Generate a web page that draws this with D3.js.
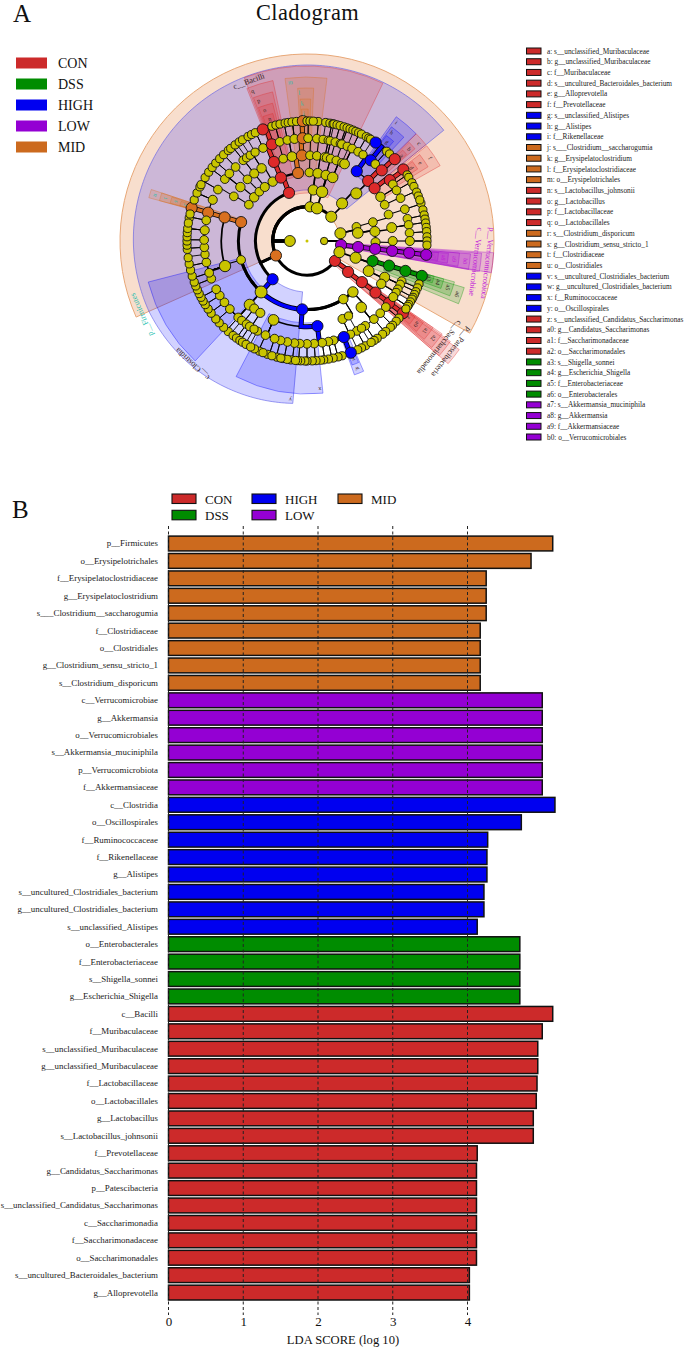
<!DOCTYPE html>
<html><head><meta charset="utf-8">
<script src="https://cdnjs.cloudflare.com/ajax/libs/d3/7.8.5/d3.min.js"></script>
<style>html,body{margin:0;padding:0;background:#fff}svg{display:block}text{font-family:"Liberation Serif",serif}</style>
</head><body><svg id="c" width="685" height="1347"></svg>
<script>
// ---------- shared data ----------
const groups = ["CON","DSS","HIGH","LOW","MID"];
const groupColors = ["#CC2A2A","#008C00","#0000F0","#9400D3","#CC6A1E"];
const nodeColors = ["#DD2A2A","#009400","#0000FF","#A000D0","#D9701F"];
const legendBRows = [["CON","DSS"],["HIGH","LOW"],["MID"]];

// ---------- cladogram key ----------
const keyLetters = ["a","b","c","d","e","f","g","h","i","j","k","l","m","n","o","p","q","r","s","t","u","v","w","x","y","z","a0","a1","a2","a3","a4","a5","a6","a7","a8","a9","b0"];
const keyNames = ["s__unclassified_Muribaculaceae","g__unclassified_Muribaculaceae","f__Muribaculaceae","s__uncultured_Bacteroidales_bacterium","g__Alloprevotella","f__Prevotellaceae","s__unclassified_Alistipes","g__Alistipes","f__Rikenellaceae","s___Clostridium__saccharogumia","g__Erysipelatoclostridium","f__Erysipelatoclostridiaceae","o__Erysipelotrichales","s__Lactobacillus_johnsonii","g__Lactobacillus","f__Lactobacillaceae","o__Lactobacillales","s__Clostridium_disporicum","g__Clostridium_sensu_stricto_1","f__Clostridiaceae","o__Clostridiales","s__uncultured_Clostridiales_bacterium","g__uncultured_Clostridiales_bacterium","f__Ruminococcaceae","o__Oscillospirales","s__unclassified_Candidatus_Saccharimonas","g__Candidatus_Saccharimonas","f__Saccharimonadaceae","o__Saccharimonadales","s__Shigella_sonnei","g__Escherichia_Shigella","f__Enterobacteriaceae","o__Enterobacterales","s__Akkermansia_muciniphila","g__Akkermansia","f__Akkermansiaceae","o__Verrucomicrobiales"];
const keyGroups = ["CON","CON","CON","CON","CON","CON","HIGH","HIGH","HIGH","MID","MID","MID","MID","CON","CON","CON","CON","MID","MID","MID","MID","HIGH","HIGH","HIGH","HIGH","CON","CON","CON","CON","DSS","DSS","DSS","DSS","LOW","LOW","LOW","LOW"];

// ---------- cladogram tree: [angle in degrees, group, children]; a bare number is an unmarked line out to species ----------
const chain = (g, ...a) => a.length === 1 ? [a[0], g] : [a[0], g, [chain(g, ...a.slice(1))]];
const ge = (a, ...sp) => [a, 0, sp];
const patescibacteria = chain("CON",125.5,127,126.8,127,127,127);
const verrucomicrobiota = chain("LOW",96.6,96.7,96.6,96.6,96.6,96.6);
const enterobacterales = chain("DSS",106.9,106.7,106.9,106.9);
const lactobacillales = [337.6,"CON",[chain("CON",337.3,340,338.4),[343.9,0,[ge(344.6,343,345)]],[349.9,0,[ge(349,347,349.5),ge(353,351,352.8,355)]]]];
const erysipelotrichales = chain("MID",352.5,356.6,357.6,358);
const bacilliOrders = [
  [302,0,[[301.4,0,[ge(300,298,301.9)]]]],
  [309.6,0,[[309,0,[ge(307,305,307.8),ge(311,310.5,313.3)]]]],
  [316,0,[[316,0,[ge(316,316,319)]]]],
  [322,0,[[322,0,[ge(321.7,320.5,323.2),ge(324,325.6)]]]],
  [330,0,[[328,0,[ge(326.5,327.5),ge(329.7,330.6),ge(334.7,332.5,334.5)]]]],
  lactobacillales, erysipelotrichales];
const clostridiales = [286,"MID",[
  [286,"MID",[chain("MID",286,286),[281.6,0,[281,283]],[293.6,0,[290,293.6,296.8]]]],
  [253,0,[ge(252,250,253),ge(258,256,259),ge(262.5,262),ge(266.5,266,268),ge(270.6,270,272),ge(276,274,276,278.6)]]]];
const oscillospirales = [184,"HIGH",[
  [173,"HIGH",[chain("HIGH",159,158.6),ge(165,163,165),ge(168,167.4,169.7),ge(171.5,172,173.5),ge(176,175.7,177.5),ge(180,180,181),ge(184,183,184.5),ge(187,187.7,185.5)]],
  [203,0,[ge(191,191.6,189.5),ge(194.9,194.5,192.6),ge(198.4,199.2,197),ge(203.8,203.3,201.5),ge(208.8,206)]]]];
const clostridiaOrders = [
  [138,0,[[140.7,0,[ge(130,130,132),ge(134.6,134.6,136),ge(139.4,139,141),ge(145.5,144.2,146)]]]],
  [148,0,[[155.5,0,[ge(151,150.8,153),155]],[151,0,[ge(148,147.7)]]]],
  oscillospirales,
  [222,0,[[222,0,[ge(222,221,224),ge(228.6,227,229.5),ge(233.4,233,235.5),ge(238,238,240),ge(242,242,244)]],[218,0,[ge(219.4,218),ge(216,216,214)]],[213,0,[ge(213.8,212.5,210.5),ge(211,208)]]]],
  [254,0,[[252.5,0,[ge(248.5,246,248)]]]],
  clostridiales];
const firmicutes = [245,"MID",[[222,"HIGH",clostridiaOrders],[339.5,"CON",bacilliOrders]]];
const phylumTopA = [5,0,[[7,0,[[2,0,[[2,0,[ge(.6,0,1.4)]]]],[9,0,[[6.6,0,[ge(5.5,5.3,3)]],[12,0,[9,ge(12,11,12.5)]]]]]]]];
const phylumTopB = [17,0,[[17,0,[[16,0,[[13.4,0,[13,ge(16,14.5,16)]],[16,0,[ge(19,18,19.5)]]]],[22,0,[[20,0,[ge(19.8,21,22.5)]],[24,0,[ge(23,24)]],[26,0,[ge(26,25.5,27),ge(29.8,29.6,31),ge(33,32)]]]]]]]];
const bacteroidota = [45,0,[[43,0,[[46,0,[
  [35.5,"HIGH",[chain("HIGH",38.3,34.9),ge(41.6,41.6,43.5)]],
  [45.5,"CON",[chain("CON",46.6,47)]],
  [52,"CON",[chain("CON",53.7,53.4)]],
  [59,0,[ge(56.6,56.6,58),ge(60.5,61,63)]],[65,0,[ge(65.4,66,68)]]]]]]]];
const phylumRight = [77,0,[[74,0,[[74,0,[[72,0,[ge(72,71.7,70)]]]]]],[81,0,[[82,0,[[81,0,[ge(77.5,75,77.5),ge(81,79.5,81.4),ge(85.5,83.5,85.5)]]]],[91,0,[[90,0,[ge(90,88,90,92)]]]]]]]];
const proteobacteria = [109,0,[[109,0,[enterobacterales,[116,0,[[115,0,[ge(113,111,113),ge(115,115,116.5),ge(118,118,119)]],[120,0,[ge(120,120.5),ge(123,122,123,124.5)]]]]]]]];
const kingdomLeft = [270,0,[patescibacteria,firmicutes,phylumTopA,phylumTopB,bacteroidota]];
const kingdomRight = [90,0,[phylumRight,verrucomicrobiota,proteobacteria]];
const kingdomSizes = [5.5,3.7];

// ---------- cladogram shading: label, group, from, to, level, label angle ----------
const shadeRows = [
 ["c__Bacilli","CON",-21,25.7,"c",-20],
 ["q","CON",-21.5,-12,"o",-20],["p","CON",-20.5,-13,"f",-19],["o","CON",-20,-14,"g",-18],["n","CON",-19.5,-15,"s",-17],
 ["m","MID",-7.7,7,"o",-6],["l","MID",-3.5,2.5,"f",-3],["k","MID",-2.8,1.5,"g",-2],["j","MID",-2.4,.5,"s",-1.5],
 ["u","MID",-74.7,-71.7,"o"],["t","MID",-74.7,-71.7,"f"],["s","MID",-74.5,-72,"g"],["r","MID",-74.5,-72.5,"s"],
 ["i","HIGH",35.7,45.5,"f",37],["h","HIGH",36.5,43,"g",38],["g","HIGH",37,41,"s",39],
 ["y","HIGH",223,255.5,"o",186],["x","HIGH",174,207.6,"f",175],["w","HIGH",156.5,160.5,"g"],["v","HIGH",157,160,"s"],
 ["c","CON",45.5,51,"f",49],["b","CON",46,49.5,"g",48],["a","CON",46.5,49,"s",48],
 ["f","CON",51.5,60.5,"f"],["e","CON",52.5,58.5,"g"],["d","CON",53,57,"s"],
 ["a2","CON",124.5,130.5,"o"],["a1","CON",124.5,130,"f"],["a0","CON",125,129.5,"g"],["z","CON",125,129,"s"],
 ["c__Saccharimonadia","CON",125,131,"c",128.8],["p__Patescibacteria","CON",125.5,131,"p",127.6],
 ["a6","DSS",106.5,112.5,"o"],["a5","DSS",105.5,111,"f"],["a4","DSS",105.5,109.5,"g"],["a3","DSS",105.5,108.5,"s"],
 ["b0","LOW",94.5,100,"o"],["a9","LOW",94.5,99.5,"f"],["a8","LOW",95,99,"g"],["a7","LOW",95,98.5,"s"],
 ["c__Verrucomicrobiae","LOW",94,100,"c",97],["p__Verrucomicrobiota","LOW",93.6,99.8,"p",97]
];
const levels = ["p","c","o","f","g","s"];
const levelInner = [31,48,65,82,100,116];
const levelOuter = [187,175,164,153,142,132];
const firmicutesSpan = [-114,119.5];
const clostridiaEdgeAngles = [185,223,246,360,411];
const clostridiaEdgeRadii = [163,170,173,176,176];

// ---------- bars ----------
const barLabels = ["p__Firmicutes","o__Erysipelotrichales","f__Erysipelatoclostridiaceae","g__Erysipelatoclostridium","s___Clostridium__saccharogumia","f__Clostridiaceae","o__Clostridiales","g__Clostridium_sensu_stricto_1","s__Clostridium_disporicum","c__Verrucomicrobiae","g__Akkermansia","o__Verrucomicrobiales","s__Akkermansia_muciniphila","p__Verrucomicrobiota","f__Akkermansiaceae","c__Clostridia","o__Oscillospirales","f__Ruminococcaceae","f__Rikenellaceae","g__Alistipes","s__uncultured_Clostridiales_bacterium","g__uncultured_Clostridiales_bacterium","s__unclassified_Alistipes","o__Enterobacterales","f__Enterobacteriaceae","s__Shigella_sonnei","g__Escherichia_Shigella","c__Bacilli","f__Muribaculaceae","s__unclassified_Muribaculaceae","g__unclassified_Muribaculaceae","f__Lactobacillaceae","o__Lactobacillales","g__Lactobacillus","s__Lactobacillus_johnsonii","f__Prevotellaceae","g__Candidatus_Saccharimonas","p__Patescibacteria","s__unclassified_Candidatus_Saccharimonas","c__Saccharimonadia","f__Saccharimonadaceae","o__Saccharimonadales","s__uncultured_Bacteroidales_bacterium","g__Alloprevotella"];
const barValues = [5.14,4.85,4.25,4.25,4.25,4.17,4.17,4.17,4.17,5.0,5.0,5.0,5.0,5.0,5.0,5.17,4.72,4.27,4.26,4.26,4.22,4.22,4.13,4.7,4.7,4.7,4.7,5.14,5.0,4.94,4.94,4.93,4.92,4.88,4.88,4.13,4.12,4.12,4.12,4.12,4.12,4.12,4.025,4.025];
const barGroups = [...Array(9).fill("MID"),...Array(6).fill("LOW"),...Array(8).fill("HIGH"),...Array(4).fill("DSS"),...Array(17).fill("CON")];
const xTicks = [0,1,2,3,4];

// ---------- drawing ----------
const svg = d3.select("#c");
const color = d3.scaleOrdinal(groups, groupColors);
const nodeColor = d3.scaleOrdinal(groups, nodeColors);
const labelColor = g => g==="MID" ? "#1FBFAF" : g==="LOW" ? "#C020D8" : "#332222";
const rad = d3.scaleLinear([0,360],[0,2*Math.PI]);
const radial = d3.scaleLinear([0,7],[0,120]);

svg.append("text").attr("x",13).attr("y",22).attr("font-size",25).attr("fill","#111").text("A");
svg.append("text").attr("x",307.5).attr("y",20).attr("text-anchor","middle").attr("font-size",22.4).attr("letter-spacing",.4).attr("fill","#111").text("Cladogram");
svg.append("text").attr("x",12).attr("y",518).attr("font-size",25).attr("fill","#111").text("B");

// left legend
const legA = svg.append("g");
groups.forEach((g,i)=>{
  const y = d3.scaleLinear([0,4],[63,147])(i);
  legA.append("rect").attr("x",16).attr("y",y-5.5).attr("width",31).attr("height",11).attr("fill",color(g));
  legA.append("text").attr("x",58).attr("y",y+4.5).attr("font-size",14).attr("fill","#111").text(g);
});

// clade key
const keyY = d3.scaleLinear([0,keyNames.length-1],[51,437]);
keyNames.forEach((n,i)=>{
  svg.append("rect").attr("x",526.5).attr("y",keyY(i)-3).attr("width",14.5).attr("height",6).attr("fill",color(keyGroups[i])).attr("stroke","#111").attr("stroke-width",1);
  svg.append("text").attr("x",547).attr("y",keyY(i)+2.6).attr("font-size",7.3).attr("fill","#222").text(keyLetters[i]+": "+n);
});

// cladogram
const clad = svg.append("g").attr("transform","translate(307,241)");
const arcGen = d3.arc();
function wedge(a,b,r0,r1){return arcGen({innerRadius:r0,outerRadius:r1,startAngle:rad(a),endAngle:rad(b)});}
clad.append("path").attr("d",wedge(firmicutesSpan[0],firmicutesSpan[1],33,187)).attr("fill","#E8935A").attr("fill-opacity",.3).attr("stroke","#E8A878").attr("stroke-width",1);
const edge = d3.scaleLinear(clostridiaEdgeAngles,clostridiaEdgeRadii);
const outerAngles = d3.range(185,411.5,1);
const radLine = d3.lineRadial().angle(d=>rad(d[0])).radius(d=>d[1]);
const clostridiaPts = outerAngles.map(a=>[a,edge(a)]).concat(outerAngles.slice().reverse().map(a=>[a,51]));
clad.append("path").attr("d",radLine(clostridiaPts)+"Z").attr("fill","#2020FF").attr("fill-opacity",.2).attr("stroke","#5050E8").attr("stroke-opacity",.55).attr("stroke-width",1);
shadeRows.forEach(([lab,g,a,b,lev])=>{
  const i = levels.indexOf(lev);
  clad.append("path").attr("d",wedge(a,b,levelInner[i],levelOuter[i])).attr("fill",nodeColor(g)).attr("fill-opacity",.18).attr("stroke",nodeColor(g)).attr("stroke-opacity",.45).attr("stroke-width",.8);
});

// tree
function toNode(s,depth){
  const isNum = typeof s === "number";
  const a = isNum ? s : s[0], g = isNum ? 0 : s[1];
  let kids = isNum ? (depth<7 ? [a] : []) : (s[2]===undefined ? [] : s[2]);
  return {a,g,depth,kids:kids.map(k=>toNode(k,depth+1))};
}
const rootData = {a:0,g:0,depth:0,size:1.5,kids:[toNode(kingdomLeft,1),toNode(kingdomRight,1)]};
rootData.kids.forEach((k,i)=>k.size=kingdomSizes[i]);
const root = d3.hierarchy(rootData,d=>d.kids).count();
const polar = (a,r)=>d3.pointRadial(rad(a),r);
const linkW = d3.scaleSqrt([1,50],[.9,3]).clamp(true);
const linkWidth = l => linkW(l.source.depth<=3 ? l.source.value : l.target.value);
const linkPath = l=>{
  const pa=l.source.data.a, ca=l.target.data.a, rp=radial(l.source.depth), rc=radial(l.target.depth);
  const delta=((ca-pa+540)%360)-180;
  return `M${polar(pa,rp)}L${polar(pa,rc)}`+(delta===0?"":`A${rc},${rc} 0 0 ${delta>0?1:0} ${polar(ca,rc)}`);
};
const links = clad.append("g").attr("fill","none");
const allLinks = root.links().filter(l=>l.source.depth>0);
const same = l=>l.target.data.g&&l.source.data.g===l.target.data.g;
links.selectAll("path.b").data(allLinks).join("path").attr("class","b").attr("d",linkPath).attr("stroke","#000").attr("stroke-width",l=>same(l)?5:linkWidth(l));
links.selectAll("path.c").data(allLinks.filter(same)).join("path").attr("class","c").attr("d",linkPath).attr("stroke",l=>nodeColor(l.target.data.g)).attr("stroke-width",3.4);
const nodeR = d3.scaleSqrt([1,20],[4.1,6.3]).clamp(true);
clad.selectAll("circle").data(root.descendants().sort((a,b)=>b.depth-a.depth)).join("circle")
  .attr("transform",d=>`translate(${polar(d.data.a,radial(d.depth))})`)
  .attr("r",d=>d.data.size||(d.data.g?5.6:nodeR(d.value)))
  .attr("fill",d=>d.data.g?nodeColor(d.data.g):"#C9C400")
  .attr("stroke","#111").attr("stroke-width",d=>d.depth===0?0:.9);

// clade labels
const tag = (lab,g,ang,r,size)=>{
  const [x,y]=polar(ang,r);
  clad.append("text").attr("transform",`translate(${x},${y}) rotate(${ang})`).attr("text-anchor","middle").attr("dy","0.32em").attr("font-size",size).attr("fill",labelColor(g)).text(lab);
};
tag("p__Firmicutes","MID",246,181,8);
tag("c__Clostridia","HIGH",223,168,8);
shadeRows.forEach(([lab,g,a,b,lev,la])=>{
  const i = levels.indexOf(lev);
  const long = lab.length>3;
  tag(lab,g,la===undefined?(a+b)/2:la,levelOuter[i]-(long?5:4.5),long?8:6);
});

// bars
const x = d3.scaleLinear([0,4],[168.5,467.5]);
const y = d3.scaleBand(barLabels,[534.8,1301.3]).paddingInner(.15).paddingOuter(.075);
const bars = svg.append("g");
bars.selectAll("rect").data(barLabels).join("rect")
  .attr("x",x(0)).attr("y",d=>y(d)).attr("height",y.bandwidth())
  .attr("width",(d,i)=>x(barValues[i])-x(0))
  .attr("fill",(d,i)=>color(barGroups[i])).attr("stroke","#111").attr("stroke-width",1.5);
svg.append("g").selectAll("text").data(barLabels).join("text")
  .attr("x",158).attr("y",d=>y(d)+y.bandwidth()/2).attr("dy","0.33em").attr("text-anchor","end").attr("font-size",8.9).attr("fill","#222").text(d=>d);
svg.append("g").selectAll("line").data(xTicks).join("line")
  .attr("x1",d=>x(d)).attr("x2",d=>x(d)).attr("y1",526).attr("y2",1315)
  .attr("stroke","#222").attr("stroke-width",1).attr("stroke-dasharray","3,2.5");
const axis = svg.append("g").attr("transform","translate(0,1310)").call(d3.axisBottom(x).tickValues(xTicks).tickSize(0).tickPadding(7).tickFormat(d3.format("d")));
axis.select(".domain").remove();
axis.selectAll("text").attr("font-size",13).attr("font-family","Liberation Serif").attr("fill","#111");
svg.append("text").attr("x",343).attr("y",1344).attr("text-anchor","middle").attr("font-size",12.6).attr("fill","#111").text("LDA SCORE (log 10)");

// bar legend
const legX = [172,252,338];
legendBRows.forEach((col,c)=>col.forEach((g,r)=>{
  const yy = 494+r*16.3;
  svg.append("rect").attr("x",legX[c]).attr("y",yy).attr("width",24).attr("height",9.5).attr("fill",color(g)).attr("stroke","#111").attr("stroke-width",1.1);
  svg.append("text").attr("x",legX[c]+33).attr("y",yy+9.5).attr("font-size",13).attr("fill","#111").text(g);
}));
</script></body></html>
